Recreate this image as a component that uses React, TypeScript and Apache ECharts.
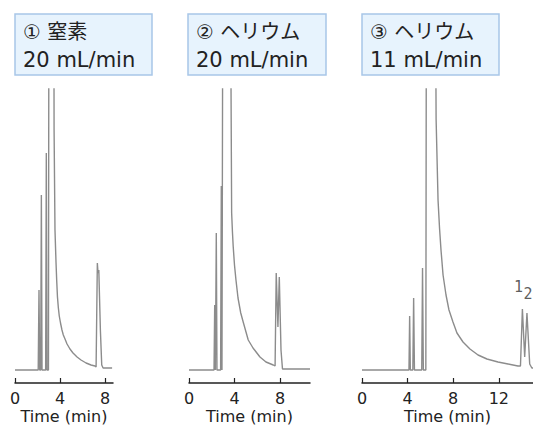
import React, { useEffect, useRef } from "react";
import * as echarts from "echarts";

// [time (min), detector signal]
const nitrogen20: [number, number][] = [
  [0, 0], [2.06, 0], [2.13, 80], [2.19, 0], [2.28, 0], [2.34, 175], [2.4, 0],
  [2.72, 0], [2.78, 217], [2.84, 0], [2.97, 0], [3.02, 500], [3.43, 500],
  [3.47, 240], [3.55, 140], [3.64, 108], [3.7, 90], [3.77, 73], [3.85, 62],
  [3.93, 54], [4.04, 47], [4.17, 40], [4.29, 35], [4.44, 31], [4.62, 26],
  [4.88, 21], [5.15, 17], [5.51, 13], [5.86, 10], [6.31, 7], [6.75, 5],
  [7.1, 4], [7.2, 3], [7.31, 107], [7.37, 97], [7.44, 100], [7.58, 40],
  [7.7, 5], [7.82, 2], [8.62, 2],
];
const helium20: [number, number][] = [
  [0, 0], [2.2, 0], [2.26, 65], [2.32, 0], [2.35, 0], [2.4, 137], [2.46, 0],
  [2.78, 0], [2.84, 184], [2.9, 0], [2.95, 0], [2.99, 500], [3.6, 500],
  [3.75, 157], [3.82, 138], [3.89, 123], [4.0, 105], [4.13, 90], [4.31, 72],
  [4.55, 57], [4.79, 47], [5.21, 30], [5.63, 22], [6.24, 13], [6.77, 8],
  [7.41, 5], [7.57, 4], [7.67, 97], [7.82, 43], [7.94, 93], [8.09, 20],
  [8.22, 1], [10.64, 1],
];
const helium11: [number, number][] = [
  [0, 0], [4.12, 0], [4.18, 54], [4.24, 0], [4.46, 0], [4.53, 72], [4.6, 0],
  [5.24, 0], [5.31, 102], [5.38, 0], [5.6, 0], [5.66, 500], [6.4, 500],
  [6.5, 251], [6.67, 170], [6.8, 142], [6.93, 120], [7.11, 95], [7.37, 75],
  [7.63, 60], [7.98, 48], [8.33, 37], [8.86, 28], [9.47, 21], [10.18, 15],
  [10.96, 11], [11.93, 8], [12.81, 6], [13.68, 4], [13.9, 4], [14.07, 61],
  [14.27, 13], [14.47, 57], [14.71, 6], [14.9, 2], [15, 2],
];
const peakLabels = ["1", "2"];
const peakPoints: [number, number][] = [[14.07, 61], [14.47, 57]];

const panelTitles = ["① 窒素", "② ヘリウム", "③ ヘリウム"];
const panelFlows = ["20 mL/min", "20 mL/min", "11 mL/min"];
const axisMax = [8.7, 10.64, 15];
const tickValues = [[0, 4, 8], [0, 4, 8], [0, 4, 8, 12]];
const axisName = "Time (min)";

const FONT = '"DejaVu Sans", "Noto Sans CJK JP", sans-serif';

export default function App() {
  const ref = useRef<HTMLDivElement>(null);
  useEffect(() => {
    if (!ref.current) return;
    const chart = echarts.init(ref.current, null, { renderer: "svg" });
    const grids = [
      { left: 15, width: 98 },
      { left: 189, width: 121 },
      { left: 362, width: 171 },
    ].map((g) => ({
      ...g,
      top: 89,
      height: 294,
      containLabel: false,
      outerBoundsMode: "none",
    }));

    const xAxes = grids.map((_, i) => ({
      type: "value",
      gridIndex: i,
      min: 0,
      max: axisMax[i],
      splitLine: { show: false },
      axisLine: { show: true, onZero: false, lineStyle: { color: "#222", width: 1.5 } },
      axisTick: {
        show: true,
        inside: true,
        length: 5,
        customValues: tickValues[i],
        lineStyle: { color: "#222", width: 1.2 },
      },
      axisLabel: {
        customValues: tickValues[i],
        color: "#222",
        fontSize: 16,
        fontFamily: FONT,
        margin: 7,
      },
      name: axisName,
      nameLocation: "middle",
      nameGap: 25,
      nameMoveOverlap: false,
      nameTextStyle: { color: "#222", fontSize: 16, fontFamily: FONT, lineHeight: 16 },
    }));
    const yAxes = grids.map((_, i) => ({
      type: "value",
      gridIndex: i,
      min: -13,
      max: 281,
      show: false,
    }));

    const datasets = [nitrogen20, helium20, helium11];
    const series: any[] = datasets.map((d, i) => ({
      type: "line",
      xAxisIndex: i,
      yAxisIndex: i,
      symbol: "none",
      clip: true,
      lineStyle: { color: "#8c8c8c", width: 1.4 },
      data: d,
    }));
    series.push({
      type: "scatter",
      xAxisIndex: 2,
      yAxisIndex: 2,
      symbolSize: 1,
      itemStyle: { color: "rgba(0,0,0,0)" },
      data: peakPoints.map((p, k) => ({
        value: p,
        label: {
          show: true,
          formatter: peakLabels[k],
          position: "top",
          distance: 5,
          offset: k === 0 ? [-4, -9] : [1, -6],
          color: "#333",
          fontSize: 15,
          fontFamily: '"DejaVu Sans Mono", monospace',
        },
      })),
    });

    const boxes = [
      { x: 15, w: 137 },
      { x: 188, w: 138 },
      { x: 362, w: 137 },
    ];
    const graphic: any[] = [];
    boxes.forEach((b, i) => {
      graphic.push({
        type: "rect",
        shape: { x: b.x, y: 14, width: b.w, height: 61 },
        style: { fill: "#E7F3FD", stroke: "#A8C6E8", lineWidth: 1.5 },
      });
      graphic.push({
        type: "text",
        x: b.x + 8,
        y: 32,
        style: {
          text: panelTitles[i],
          font: `20px ${FONT}`,
          fill: "#222",
          verticalAlign: "middle",
        },
      });
      graphic.push({
        type: "text",
        x: b.x + 8,
        y: 60,
        style: {
          text: panelFlows[i],
          font: `21px ${FONT}`,
          fill: "#222",
          verticalAlign: "middle",
        },
      });
    });

    chart.setOption({
      animation: false,
      grid: grids,
      xAxis: xAxes,
      yAxis: yAxes,
      series,
      graphic,
    });
    return () => chart.dispose();
  }, []);
  return (
    <div
      ref={ref}
      style={{ position: "absolute", left: 0, top: 0, width: 533, height: 425 }}
    />
  );
}
